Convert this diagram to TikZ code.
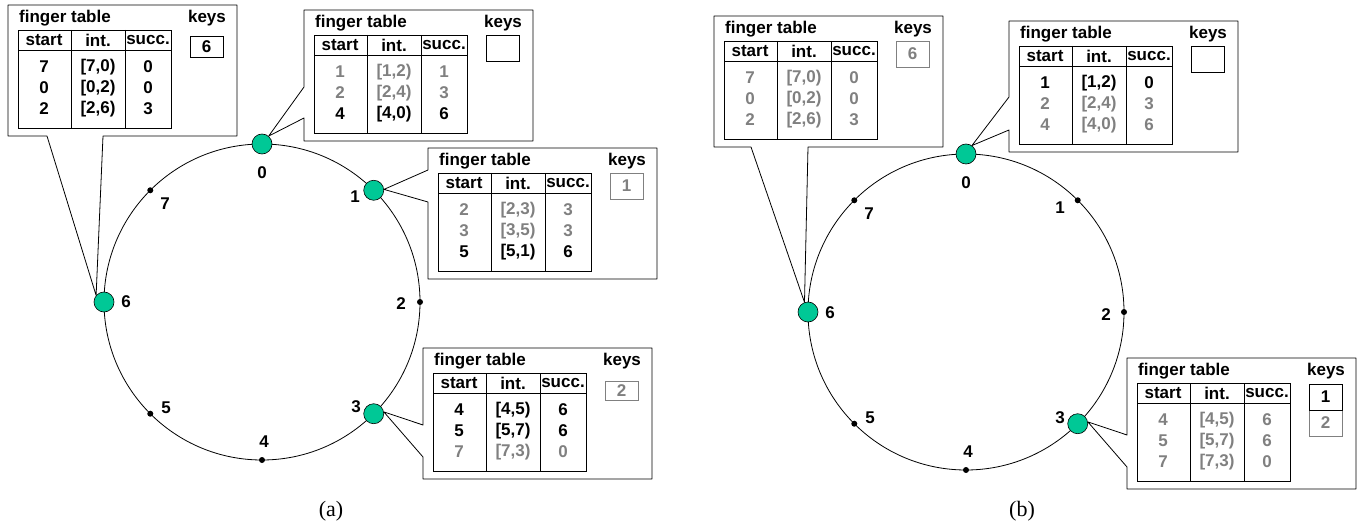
\documentclass[tikz,border=0pt]{standalone}
\usepackage{fontspec}
\setsansfont{Liberation Sans}
\setmainfont{Liberation Serif}
\definecolor{peergreen}{RGB}{0,200,150}
\definecolor{ftgray}{RGB}{128,128,128}
\tikzset{
  txt/.style={font=\sffamily\bfseries\fontsize{17}{20}\selectfont, inner sep=0pt},
  tabline/.style={draw=black, line width=0.8pt},
  ftbox/.style={draw=black, line width=0.8pt, line join=round},
  keybox/.style={txt, draw=black, line width=0.8pt, minimum width=33, minimum height=26},
  peer/.style={circle, draw=black, line width=0.6pt, fill=peergreen, minimum size=20, inner sep=0pt},
  ringdot/.style={circle, fill=black, minimum size=6, inner sep=0pt},
  ringline/.style={draw=black, line width=0.8pt},
}
% finger table: name, x, y (top left of the box), rows colour/start/int/succ
\newcommand{\fingertable}[4]{%
  \begin{scope}[shift={(#2,#3)}]
    \draw[tabline] (10,25) rectangle (163,123);
    \draw[tabline] (10,45) -- (163,45) (63,25) -- (63,123) (117,25) -- (117,123);
    \node[txt, anchor=west] (#1-title) at (11,13) {finger table};
    \node[txt] (#1-keys) at (199,13) {keys};
    \node[txt] (#1-start) at (36,35) {start};
    \node[txt] (#1-int) at (90,35) {int.};
    \node[txt] (#1-succ) at (140,35) {succ.};
    \foreach \colr/\strt/\intv/\sucr [count=\rw] in {#4}
    {
      \node[txt, text=\colr] (#1-s\rw) at (36,{41+21*\rw}) {\strt};
      \node[txt, text=\colr] (#1-i\rw) at (90,{41+21*\rw}) {\intv};
      \node[txt, text=\colr] (#1-n\rw) at (140,{41+21*\rw}) {\sucr};
    }
  \end{scope}}

\begin{document}
\begin{tikzpicture}[x=1pt, y=-1pt]
\useasboundingbox (0,0) rectangle (1364,529);

% ring (a)
\coordinate (ca) at (262,302);
\draw[ringline] (ca) circle[radius=158];
\foreach \k in {2,4,5,7}
  \node[ringdot] (a\k) at ({262+158*cos(-90+45*\k)},{302+158*sin(-90+45*\k)}) {};
\foreach \k in {0,1,3,6}
  \node[peer] (a\k) at ({262+158*cos(-90+45*\k)},{302+158*sin(-90+45*\k)}) {};
\foreach \k/\dx/\dy in {0/0/-129, 1/93/-105, 2/139/2, 3/94/105, 4/2/140, 5/-96/106, 6/-136/0, 7/-97/-98}
  \node[txt] (la\k) at ({262+\dx},{302+\dy}) {\k};

% ring (b)
\coordinate (cb) at (966,312);
\draw[ringline] (cb) circle[radius=158];
\foreach \k in {1,2,4,5,7}
  \node[ringdot] (b\k) at ({966+158*cos(-90+45*\k)},{312+158*sin(-90+45*\k)}) {};
\foreach \k in {0,3,6}
  \node[peer] (b\k) at ({966+158*cos(-90+45*\k)},{312+158*sin(-90+45*\k)}) {};
\foreach \k/\dx/\dy in {0/0/-129, 1/94/-104, 2/140/3, 3/94/106, 4/2/140, 5/-96/106, 6/-136/1, 7/-97/-98}
  \node[txt] (lb\k) at ({966+\dx},{312+\dy}) {\k};

% callouts (a)
\draw[ftbox] (103,136) -- (237,136) -- (237,5) -- (8,5) -- (8,136) -- (47,136) -- (a6.140) -- cycle;
\fingertable{ta6}{8}{5}{black/7/{[7,0)}/0, black/0/{[0,2)}/0, black/2/{[2,6)}/3}
\node[keybox, minimum height=21] (ta6-k) at (206.5,47) {6};

\draw[ftbox] (304,87) -- (304,10) -- (533,10) -- (533,141) -- (304,141) -- (304,118) -- (a0.50) -- cycle;
\fingertable{ta0}{304}{10}{ftgray/1/{[1,2)}/1, ftgray/2/{[2,4)}/3, black/4/{[4,0)}/6}
\node[keybox] (ta0-k) at (502.5,48) {};

\draw[ftbox] (428,170) -- (428,148) -- (657,148) -- (657,279) -- (428,279) -- (428,202) -- (a1.5) -- cycle;
\fingertable{ta1}{428}{148}{ftgray/2/{[2,3)}/3, ftgray/3/{[3,5)}/3, black/5/{[5,1)}/6}
\node[keybox, draw=ftgray, text=ftgray] (ta1-k) at (626.5,186) {1};

\draw[ftbox] (423,425) -- (423,348) -- (652,348) -- (652,479) -- (423,479) -- (423,457) -- (a3.10) -- cycle;
\fingertable{ta3}{423}{348}{black/4/{[4,5)}/6, black/5/{[5,7)}/6, ftgray/7/{[7,3)}/0}
\node[keybox, draw=ftgray, text=ftgray, minimum height=19] (ta3-k) at (621.5,390.5) {2};

% callouts (b)
\draw[ftbox] (808,147) -- (943,147) -- (943,16) -- (714,16) -- (714,147) -- (751,147) -- (b6.110) -- cycle;
\fingertable{tb6}{714}{16}{ftgray/7/{[7,0)}/0, ftgray/0/{[0,2)}/0, ftgray/2/{[2,6)}/3}
\node[keybox, draw=ftgray, text=ftgray] (tb6-k) at (912.5,54) {6};

\draw[ftbox] (1009,97) -- (1009,21) -- (1238,21) -- (1238,152) -- (1009,152) -- (1009,130) -- (b0.55) -- cycle;
\fingertable{tb0}{1009}{21}{black/1/{[1,2)}/0, ftgray/2/{[2,4)}/3, ftgray/4/{[4,0)}/6}
\node[keybox] (tb0-k) at (1207.5,59) {};

\draw[ftbox] (1127,435) -- (1127,358) -- (1356,358) -- (1356,489) -- (1127,489) -- (1127,467) -- (b3.10) -- cycle;
\fingertable{tb3}{1127}{358}{ftgray/4/{[4,5)}/6, ftgray/5/{[5,7)}/6, ftgray/7/{[7,3)}/0}
\node[keybox, draw=ftgray, text=ftgray] (tb3-k2) at (1325.5,423) {2};
\node[keybox] (tb3-k1) at (1325.5,397) {1};

% captions
\node[font=\rmfamily\fontsize{22}{24}\selectfont] (capa) at (331,511) {(a)};
\node[font=\rmfamily\fontsize{22}{24}\selectfont] (capb) at (1022,511) {(b)};
\end{tikzpicture}
\end{document}
